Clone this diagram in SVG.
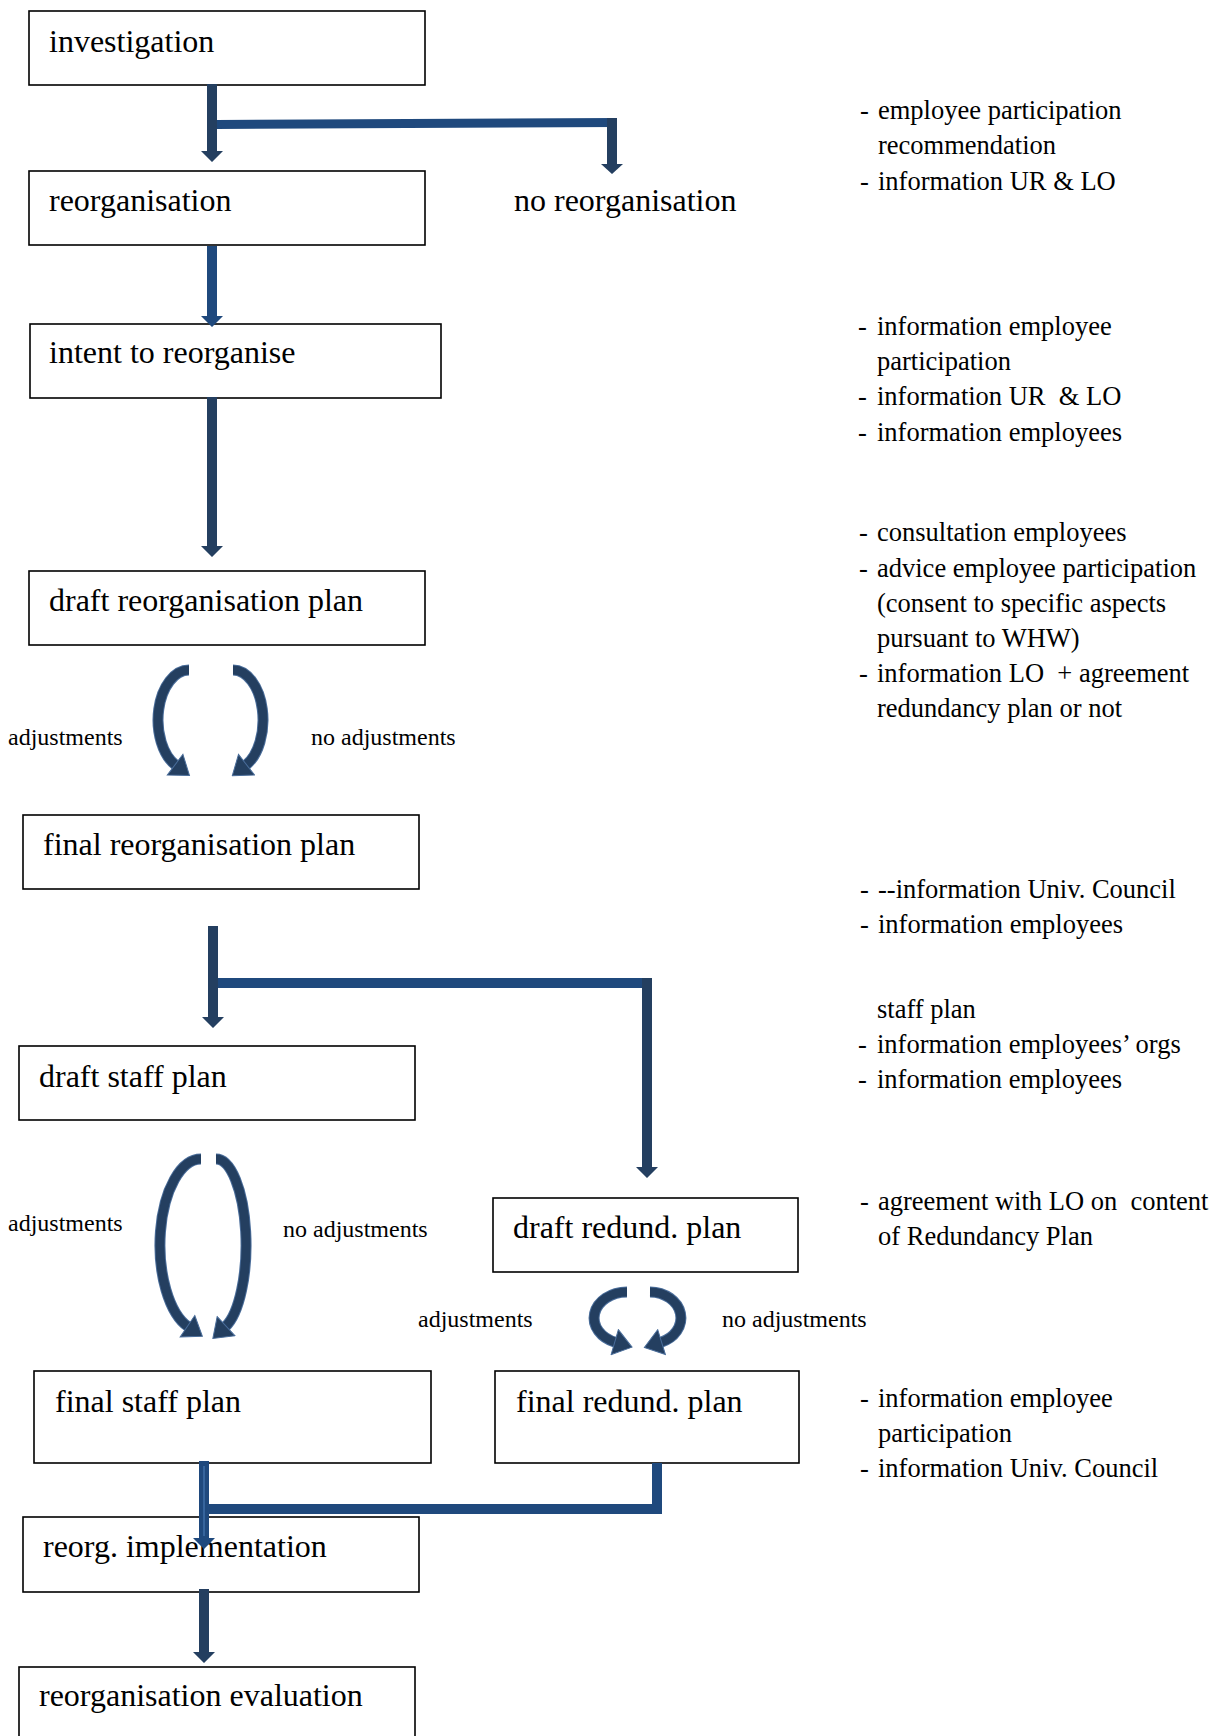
<svg xmlns="http://www.w3.org/2000/svg" width="1219" height="1736" viewBox="0 0 1219 1736">
<style>
.box{fill:#fff;stroke:#000;stroke-width:1.6}
.bt{font-family:"Liberation Serif","Times New Roman",serif;font-size:32px;fill:#000}
.lb{font-family:"Liberation Serif","Times New Roman",serif;font-size:24px;fill:#000}
.rt{font-family:"Liberation Serif","Times New Roman",serif;font-size:26.5px;fill:#000;white-space:pre}
.dk{fill:#243F60}
.bl{fill:#1F497D}
.cvo{fill:none;stroke:#4a6d9a;stroke-width:11}
.cv{fill:none;stroke:#243F60;stroke-width:9}
</style>
<defs>
<marker id="ch" viewBox="-1 -1 20 28" refX="1" refY="13" markerWidth="20" markerHeight="28" markerUnits="userSpaceOnUse" orient="auto">
<path d="M0,0 L18,13 L0,26 z" fill="#243F60" stroke="#4a6d9a" stroke-width="1"/>
</marker>
</defs>
<g id="nodes">
<g id="n-investigation"><rect class="box" x="29" y="11" width="396" height="74"/><text class="bt" x="49" y="52">investigation</text></g>
<g id="n-reorganisation"><rect class="box" x="29" y="171" width="396" height="74"/><text class="bt" x="49" y="211">reorganisation</text></g>
<g id="n-noreorg"><text class="bt" x="514" y="211">no reorganisation</text></g>
<g id="n-intent"><rect class="box" x="30" y="324" width="411" height="74"/><text class="bt" x="49" y="363">intent to reorganise</text></g>
<g id="n-draftreorg"><rect class="box" x="29" y="571" width="396" height="74"/><text class="bt" x="49" y="611">draft reorganisation plan</text></g>
<g id="n-finalreorg"><rect class="box" x="23" y="815" width="396" height="74"/><text class="bt" x="43" y="855">final reorganisation plan</text></g>
<g id="n-draftstaff"><rect class="box" x="19" y="1046" width="396" height="74"/><text class="bt" x="39" y="1087">draft staff plan</text></g>
<g id="n-draftredund"><rect class="box" x="493" y="1198" width="305" height="74"/><text class="bt" x="513" y="1238">draft redund. plan</text></g>
<g id="n-finalstaff"><rect class="box" x="34" y="1371" width="397" height="92"/><text class="bt" x="55" y="1412">final staff plan</text></g>
<g id="n-finalredund"><rect class="box" x="495" y="1371" width="304" height="92"/><text class="bt" x="516" y="1412">final redund. plan</text></g>
<g id="n-impl"><rect class="box" x="23" y="1517" width="396" height="75"/><text class="bt" x="43" y="1557">reorg. implementation</text></g>
<g id="n-eval"><rect class="box" x="19" y="1667" width="396" height="80"/><text class="bt" x="39" y="1706">reorganisation evaluation</text></g>
</g>
<g id="labels">
<text class="lb" x="8" y="745">adjustments</text>
<text class="lb" x="311" y="745">no adjustments</text>
<text class="lb" x="8" y="1231">adjustments</text>
<text class="lb" x="283" y="1237">no adjustments</text>
<text class="lb" x="418" y="1327">adjustments</text>
<text class="lb" x="722" y="1327">no adjustments</text>
</g>
<g id="notes" class="rt">
<text x="860" y="119">-<tspan x="878">employee participation</tspan></text>
<text x="878" y="154">recommendation</text>
<text x="860" y="190">-<tspan x="878">information UR &amp; LO</tspan></text>
<text x="858" y="335">-<tspan x="877">information employee</tspan></text>
<text x="877" y="370">participation</text>
<text x="858" y="405">-<tspan x="877">information UR &#160;&amp; LO</tspan></text>
<text x="858" y="441">-<tspan x="877">information employees</tspan></text>
<text x="859" y="541">-<tspan x="877">consultation employees</tspan></text>
<text x="859" y="577">-<tspan x="877">advice employee participation</tspan></text>
<text x="877" y="612">(consent to specific aspects</text>
<text x="877" y="647">pursuant to WHW)</text>
<text x="859" y="682">-<tspan x="877">information LO &#160;+ agreement</tspan></text>
<text x="877" y="717">redundancy plan or not</text>
<text x="860" y="898">-<tspan x="878">--information Univ. Council</tspan></text>
<text x="860" y="933">-<tspan x="878">information employees</tspan></text>
<text x="877" y="1018">staff plan</text>
<text x="858" y="1053">-<tspan x="877">information employees’ orgs</tspan></text>
<text x="858" y="1088">-<tspan x="877">information employees</tspan></text>
<text x="860" y="1210">-<tspan x="878">agreement with LO on &#160;content</tspan></text>
<text x="878" y="1245">of Redundancy Plan</text>
<text x="860" y="1407">-<tspan x="878">information employee</tspan></text>
<text x="878" y="1442">participation</text>
<text x="860" y="1477">-<tspan x="878">information Univ. Council</tspan></text>
</g>
<g id="connectors">
<!-- investigation -> reorganisation / no reorganisation -->
<polygon class="bl" points="217,120 617,118 617,127 217,129"/>
<polygon class="dk" points="207,84 217,84 217,151 223,151 212,162 201,151 207,151"/>
<polygon class="dk" points="607,118 617,118 617,164 623,164 612,174 601,164 607,164"/>
<!-- reorganisation -> intent -->
<polygon class="bl" points="207,246 217,246 217,316 223,316 212,327 201,316 207,316"/>
<!-- intent -> draft -->
<polygon class="dk" points="207,397 217,397 217,546 223,546 212,557 201,546 207,546"/>
<!-- draft -> final reorg (curved) -->
<path class="cvo" d="M189,670 A31,50 0 0 0 175.9,765.3"/>
<path class="cv" d="M189,670 A31,50 0 0 0 175.9,765.3" marker-end="url(#ch)"/>
<path class="cvo" d="M233,670 A30,50 0 0 1 245.7,765.3"/>
<path class="cv" d="M233,670 A30,50 0 0 1 245.7,765.3" marker-end="url(#ch)"/>
<!-- final reorg -> draft staff / draft redund -->
<polygon class="bl" points="218,978 652,978 652,988 218,988"/>
<polygon class="dk" points="208,926 218,926 218,1017 224,1017 213,1028 202,1017 208,1017"/>
<polygon class="dk" points="642,978 652,978 652,1167 658,1167 647,1178 636,1167 642,1167"/>
<!-- draft staff -> final staff (curved) -->
<path class="cvo" d="M201,1159 A41,86 0 0 0 188.3,1326.8"/>
<path class="cv" d="M201,1159 A41,86 0 0 0 188.3,1326.8" marker-end="url(#ch)"/>
<path class="cvo" d="M216,1159 A30,86 0 0 1 225.3,1326.8"/>
<path class="cv" d="M216,1159 A30,86 0 0 1 225.3,1326.8" marker-end="url(#ch)"/>
<!-- draft redund -> final redund (curved) -->
<path class="cvo" d="M627,1292 A33,26 0 0 0 615.7,1342.4"/>
<path class="cv" d="M627,1292 A33,26 0 0 0 615.7,1342.4" marker-end="url(#ch)"/>
<path class="cvo" d="M650,1292 A31,26 0 0 1 660.6,1342.4"/>
<path class="cv" d="M650,1292 A31,26 0 0 1 660.6,1342.4" marker-end="url(#ch)"/>
<!-- final staff + final redund -> implementation -->
<polygon class="bl" points="207,1504 662,1504 662,1514 207,1514"/>
<polygon class="bl" points="652,1463 662,1463 662,1514 652,1514"/>
<polygon class="bl" points="199,1461 209,1461 209,1538 215,1538 204,1549 193,1538 199,1538"/>
<line x1="204" y1="1466" x2="204" y2="1536" stroke="#4F81BD" stroke-width="1"/>
<!-- implementation -> evaluation -->
<polygon class="dk" points="199,1589 209,1589 209,1652 215,1652 204,1663 193,1652 199,1652"/>
</g>
</svg>
